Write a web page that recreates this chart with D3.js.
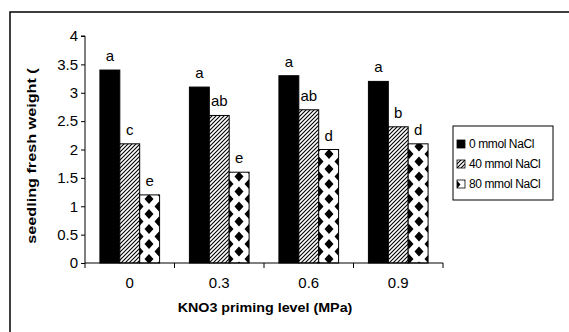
<!DOCTYPE html>
<html>
<head>
<meta charset="utf-8">
<script src="https://cdn.jsdelivr.net/npm/d3@7"></script>
<style>
  body { margin: 0; background: #fff; }
  text { font-family: "Liberation Sans", Arial, sans-serif; fill: #000; }
</style>
</head>
<body>
<div id="chart"></div>
<script>
// data
const categories = ['0', '0.3', '0.6', '0.9'];
const seriesNames = ['0 mmol NaCl', '40 mmol NaCl', '80 mmol NaCl'];
const nacl0 = [3.4, 3.1, 3.3, 3.2];
const nacl40 = [2.1, 2.6, 2.7, 2.4];
const nacl80 = [1.2, 1.6, 2.0, 2.1];
const letters0 = ['a', 'a', 'a', 'a'];
const letters40 = ['c', 'ab', 'ab', 'b'];
const letters80 = ['e', 'e', 'd', 'd'];
const yTicks = [0, 0.5, 1, 1.5, 2, 2.5, 3, 3.5, 4];
const yTickLabels = ['0', '0.5', '1', '1.5', '2', '2.5', '3', '3.5', '4'];

const width = 569, height = 332;
const plot = { left: 85, right: 443, top: 36, bottom: 263 };

const svg = d3.select('#chart').append('svg')
  .attr('width', width)
  .attr('height', height);

// patterns
const defs = svg.append('defs');
const hatch = defs.append('pattern')
  .attr('id', 'hatch')
  .attr('patternUnits', 'userSpaceOnUse')
  .attr('width', 4).attr('height', 4);
hatch.append('rect').attr('width', 4).attr('height', 4).attr('fill', '#fff');
hatch.append('path')
  .attr('d', 'M-1,1 l2,-2 M0,4 l4,-4 M3,5 l2,-2')
  .attr('stroke', '#000').attr('stroke-width', 1.1);

const dots = defs.append('pattern')
  .attr('id', 'dots')
  .attr('patternUnits', 'userSpaceOnUse')
  .attr('x', -1).attr('y', 0)
  .attr('width', 20).attr('height', 15);
dots.append('rect').attr('width', 20).attr('height', 15).attr('fill', '#fff');
const diamond = (cx, cy) => `M${cx},${cy - 5} L${cx + 4.5},${cy} L${cx},${cy + 5} L${cx - 4.5},${cy} Z`;
dots.append('path')
  .attr('d', diamond(10, 4) + diamond(0, 11.5) + diamond(20, 11.5) + diamond(0, -3.5) + diamond(20, -3.5) + diamond(10, 19))
  .attr('fill', '#000');

const fills = ['#000', 'url(#hatch)', 'url(#dots)'];

// frame (runs off the right and bottom edges, as in the source)
svg.append('rect')
  .attr('x', 10).attr('y', 12)
  .attr('width', 700).attr('height', 400)
  .attr('fill', 'none')
  .attr('stroke', '#000')
  .attr('stroke-width', 1.5);

const x = d3.scaleBand()
  .domain(categories)
  .range([plot.left, plot.right])
  .paddingInner(1 / 3)
  .paddingOuter(1 / 6);

const xInner = d3.scaleBand()
  .domain(seriesNames)
  .range([0, x.bandwidth()]);

const y = d3.scaleLinear()
  .domain([0, 4])
  .range([plot.bottom, plot.top]);

// bars
const series = [nacl0, nacl40, nacl80];
const labels = [letters0, letters40, letters80];

series.forEach((values, si) => {
  svg.append('g').selectAll('rect')
    .data(values)
    .enter()
      .append('rect')
        .attr('x', (d, i) => x(categories[i]) + xInner(seriesNames[si]))
        .attr('y', d => y(d))
        .attr('width', xInner.bandwidth())
        .attr('height', d => y(0) - y(d))
        .attr('fill', fills[si])
        .attr('stroke', '#000')
        .attr('stroke-width', 1);

  svg.append('g').selectAll('text')
    .data(values)
    .enter()
      .append('text')
        .attr('x', (d, i) => x(categories[i]) + xInner(seriesNames[si]) + xInner.bandwidth() / 2)
        .attr('y', d => y(d) - 9)
        .attr('text-anchor', 'middle')
        .style('font-size', '15px')
        .text((d, i) => labels[si][i]);
});

// y axis
const yAxis = svg.append('g')
  .attr('transform', `translate(${plot.left},0)`)
  .call(d3.axisLeft(y)
    .tickValues(yTicks)
    .tickSize(4)
    .tickFormat((d, i) => yTickLabels[i]));
yAxis.select('.domain').attr('stroke', '#000').attr('d', `M-4,${plot.top}H0V${plot.bottom}`);
yAxis.selectAll('.tick text')
  .attr('x', -7)
  .style('font-size', '15px')
  .style('font-family', '"Liberation Sans", Arial, sans-serif');

// x axis
const xAxis = svg.append('g')
  .attr('transform', `translate(0,${plot.bottom})`)
  .call(d3.axisBottom(x).tickSize(0).tickPadding(14));
xAxis.select('.domain').attr('stroke', '#000').attr('d', `M${plot.left},0H${plot.right}`);
xAxis.selectAll('.tick text')
  .style('font-size', '15px')
  .style('font-family', '"Liberation Sans", Arial, sans-serif');

const boundaries = [plot.left].concat(categories.map(c => x(c) + x.bandwidth() + x.step() * x.paddingInner() / 2));
boundaries[boundaries.length - 1] = plot.right;
xAxis.selectAll('.bound')
  .data(boundaries)
  .enter()
    .append('line')
      .attr('class', 'bound')
      .attr('x1', d => d).attr('x2', d => d)
      .attr('y1', 0).attr('y2', 5)
      .attr('stroke', '#000');

// axis titles (source glyphs are a little wide, hence the stretch)
svg.append('text')
  .attr('transform', 'translate(265,312) scale(1.1,1)')
  .attr('text-anchor', 'middle')
  .style('font-size', '13px')
  .style('font-weight', 'bold')
  .text('KNO3 priming level (MPa)');

svg.append('text')
  .attr('transform', 'translate(36,156) rotate(-90) scale(1.2,1)')
  .attr('text-anchor', 'middle')
  .style('font-size', '13.5px')
  .style('font-weight', 'bold')
  .text('seedling fresh weight (');

// legend
const legend = svg.append('g').attr('transform', 'translate(453,126)');
legend.append('rect')
  .attr('width', 100).attr('height', 74)
  .attr('fill', '#fff')
  .attr('stroke', '#000')
  .attr('stroke-width', 1);

seriesNames.forEach((name, i) => {
  const row = legend.append('g').attr('transform', `translate(4,${22 + i * 20})`);
  row.append('rect')
    .attr('x', 0).attr('y', -8)
    .attr('width', 8).attr('height', 8)
    .attr('fill', fills[i])
    .attr('stroke', '#000')
    .attr('stroke-width', 0.8);
  row.append('text')
    .attr('x', 12).attr('y', 0)
    .style('font-size', '12px')
    .style('letter-spacing', '-0.4px')
    .text(name);
});
</script>
</body>
</html>
